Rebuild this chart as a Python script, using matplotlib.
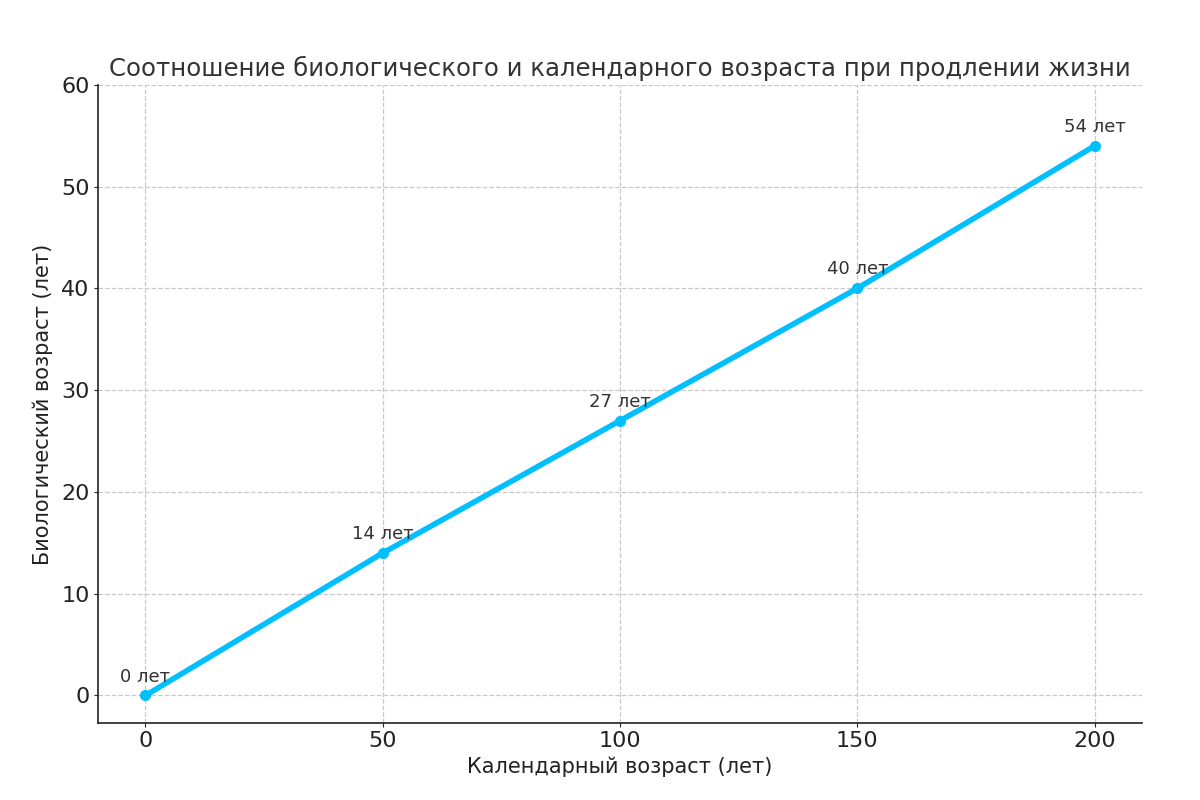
import numpy as np
from matplotlib import pyplot as plt

# calendar age vs biological age
calendar_age = [0, 50, 100, 150, 200]
bio_age = [0, 14, 27, 40, 54]
point_labels = ['0 лет', '14 лет', '27 лет', '40 лет', '54 лет']

plt.rcParams['font.family'] = ['DejaVu Sans']

fig = plt.figure(figsize=(12, 8), dpi=100)
ax = fig.add_axes([0.0817, 0.0963, 0.87, 0.7977])

ax.plot(calendar_age, bio_age, color='#00BFFF', lw=4, marker='o', markersize=7)
for x, y, t in zip(calendar_age, bio_age, point_labels):
    ax.annotate(t, (x, y), textcoords='offset points', xytext=(0, 10),
                ha='center', fontsize=13, color='#333333')

ax.set_xlim(-10, 210)
ax.set_ylim(-2.7, 60)
ax.set_xticks([0, 50, 100, 150, 200])
ax.set_yticks([0, 10, 20, 30, 40, 50, 60])
ax.grid(True, linestyle='--', color='#c8c8c8', lw=0.9)
ax.spines['top'].set_visible(False)
ax.spines['right'].set_visible(False)
for s in ['left', 'bottom']:
    ax.spines[s].set_color('#222222')
    ax.spines[s].set_linewidth(1.2)
ax.tick_params(labelsize=16, length=3, pad=3, colors='#222222')

ax.set_title('Соотношение биологического и календарного возраста при продлении жизни',
             fontsize=17.6, color='#333333')
ax.set_xlabel('Календарный возраст (лет)', fontsize=15, color='#222222')
ax.set_ylabel('Биологический возраст (лет)', fontsize=15, color='#222222', labelpad=6)

fig.savefig('out.png')
